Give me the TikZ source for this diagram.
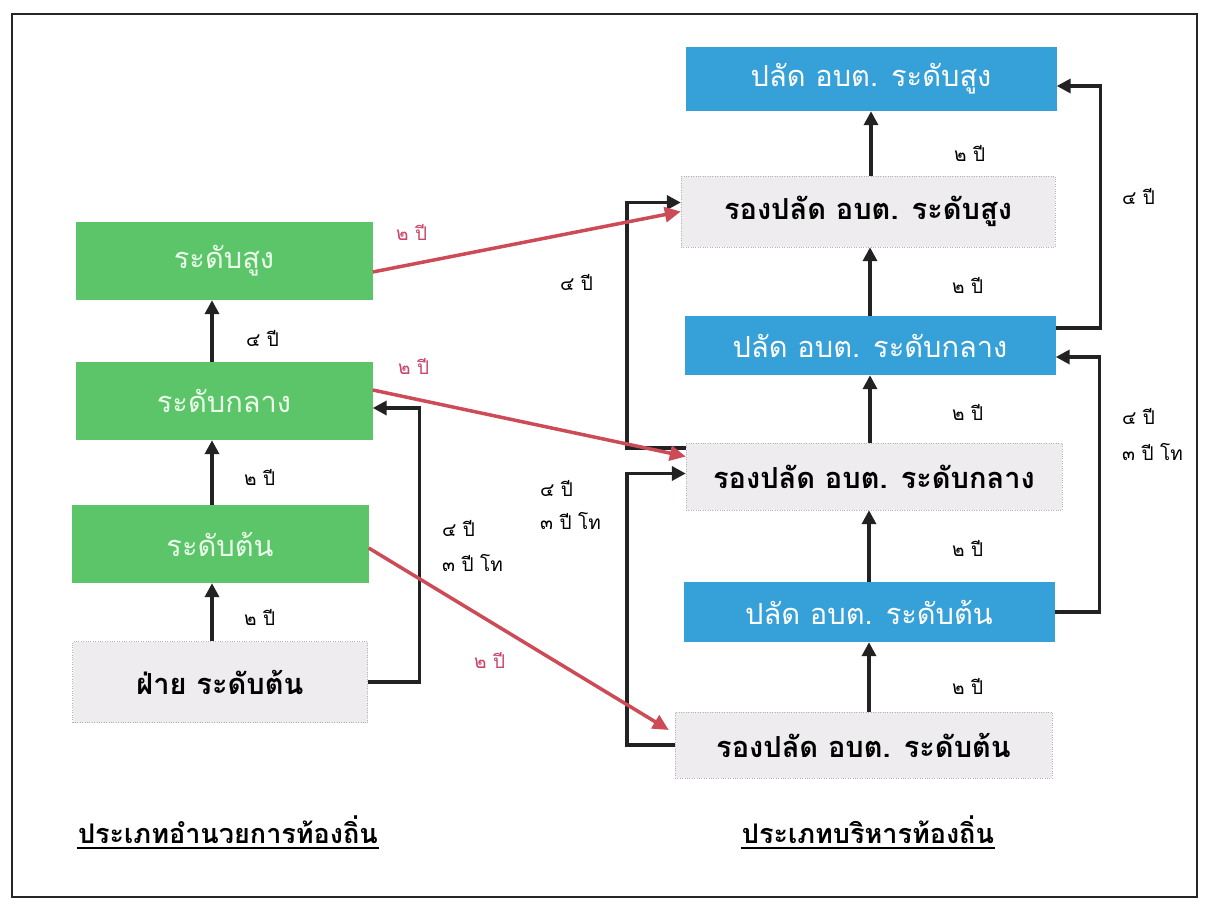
\documentclass[tikz,border=0pt]{standalone}
\usepackage{fontspec}
\newfontfamily\thai[Script=Thai]{Loma}
\usetikzlibrary{arrows.meta,calc}
\definecolor{boxgreen}{HTML}{5CC56A}
\definecolor{boxblue}{HTML}{36A0D8}
\definecolor{boxgray}{HTML}{EEECEF}
\definecolor{redarr}{HTML}{CC4B57}
\definecolor{redtxt}{HTML}{C8466A}
\definecolor{arrblack}{HTML}{222222}
\begin{document}
\begin{tikzpicture}[x=1pt,y=-1pt,
  box/.style={rectangle, inner sep=0pt, font={\thai\fontsize{29}{32}\selectfont}},
  gbox/.style={box, fill=boxgreen, text=white!92!green, minimum width=297pt, minimum height=78pt},
  bbox/.style={box, fill=boxblue, text=white, minimum width=371pt},
  wbox/.style={box, fill=boxgray, draw=black!30, dotted, text=black, font={\thai\bfseries\fontsize{29}{32}\selectfont}},
  arr/.style={line width=3.5pt, arrblack, -{Triangle[length=14pt,width=14pt]}},
  rarr/.style={line width=3.5pt, redarr, -{Triangle[length=16pt,width=15pt]}},
  lbl/.style={inner sep=0pt, font={\thai\fontsize{19}{21}\selectfont}, anchor=west},
  rlbl/.style={lbl, text=redtxt},
  ttl/.style={inner sep=1pt, font={\thai\bfseries\fontsize{27}{29}\selectfont}},
]
\useasboundingbox (0,0) rectangle (1209,909);
\draw[line width=1.6pt, black!85] (12,14) rectangle (1197,897);

% left column
\node[gbox] (ls) at (224,261) {ระดับสูง};
\node[gbox] (lm) at (224,401) {ระดับกลาง};
\node[gbox] (lt) at (220,544) {ระดับต้น};
\node[wbox, minimum width=295pt, minimum height=81pt] (lf) at (220,682) {ฝ่าย ระดับต้น};

% right column
\node[bbox, minimum height=64pt] (rs) at (871,79) {ปลัด อบต. ระดับสูง};
\node[wbox, minimum width=374pt, minimum height=71pt] (rvs) at (868,211.5) {รองปลัด อบต. ระดับสูง};
\node[bbox, minimum height=59pt] (rm) at (870,345.5) {ปลัด อบต. ระดับกลาง};
\node[wbox, minimum width=376pt, minimum height=67pt] (rvm) at (874,476.5) {รองปลัด อบต. ระดับกลาง};
\node[bbox, minimum height=60pt] (rt) at (869,612) {ปลัด อบต. ระดับต้น};
\node[wbox, minimum width=377pt, minimum height=66pt] (rvt) at (863.5,745) {รองปลัด อบต. ระดับต้น};

% left vertical arrows
\draw[arr] ([xshift=-8pt]lf.north) -- ([xshift=-8pt]lf.north |- lt.south);
\draw[arr] ([xshift=-8pt]lt.north) -- ([xshift=-8pt]lt.north |- lm.south);
\draw[arr] ([xshift=-12pt]lm.north) -- ([xshift=-12pt]lm.north |- ls.south);
\node[lbl] (l1) at (244,617) {๒ ปี};
\node[lbl] (l2) at (244,477) {๒ ปี};
\node[lbl] (l3) at (246,338) {๔ ปี};

% left loop
\draw[arr] (lf.east) -- ++(52,0) |- ([yshift=-7pt]lm.east);
\node[lbl] (l4) at (442,528) {๔ ปี};
\node[lbl] (l5) at (442,563) {๓ ปี โท};

% right vertical arrows
\draw[arr] (rvt.north -| rt.south) -- (rt.south);
\draw[arr] (rt.north) -- (rt.north |- rvm.south);
\draw[arr] (rvm.north -| rm.south) -- (rm.south);
\draw[arr] (rm.north) -- (rm.north |- rvs.south);
\draw[arr] (rvs.north -| rs.south) -- (rs.south);
\node[lbl] (r1) at (952,686) {๒ ปี};
\node[lbl] (r2) at (952,548) {๒ ปี};
\node[lbl] (r3) at (952,412) {๒ ปี};
\node[lbl] (r4) at (952,285) {๒ ปี};
\node[lbl] (r5) at (954,153) {๒ ปี};

% right loops (outer)
\draw[arr] ([yshift=17.5pt]rm.east) -- ++(45,0) |- ([yshift=-7pt]rs.east);
\draw[arr] (rt.east) -- ++(45,0) |- ([yshift=-11.5pt]rm.east);
\node[lbl] (r6) at (1122,196) {๔ ปี};
\node[lbl] (r7) at (1122,416) {๔ ปี};
\node[lbl] (r8) at (1122,452) {๓ ปี โท};

% right loops (inner, left side)
\draw[arr] ([yshift=28.5pt]rvm.west) -- ++(-59,0) |- ([yshift=9pt]rvs.west);
\draw[arr] (rvt.west) -- ++(-48,0) |- ([yshift=3pt]rvm.west);
\node[lbl] (r9) at (560,282) {๔ ปี};
\node[lbl] (r10) at (540,488) {๔ ปี};
\node[lbl] (r11) at (540,521) {๓ ปี โท};

% red arrows
\draw[rarr] ([yshift=-11pt]ls.east) -- (rvs.west);
\draw[rarr] ([yshift=11pt]lm.east) -- ([yshift=20pt]rvm.west);
\draw[rarr] ([yshift=-4pt]lt.east) -- ([xshift=-6pt,yshift=15pt]rvt.west);
\node[rlbl] (p1) at (396,232) {๒ ปี};
\node[rlbl] (p2) at (398,366) {๒ ปี};
\node[rlbl] (p3) at (474,660) {๒ ปี};

% titles
\node[ttl] (t1) at (228,830) {ประเภทอำนวยการท้องถิ่น};
\node[ttl] (t2) at (868,830) {ประเภทบริหารท้องถิ่น};
\draw[line width=1.5pt] ([yshift=-3pt]t1.south west) -- ([yshift=-3pt]t1.south east);
\draw[line width=1.5pt] ([yshift=-3pt]t2.south west) -- ([yshift=-3pt]t2.south east);
\end{tikzpicture}
\end{document}
